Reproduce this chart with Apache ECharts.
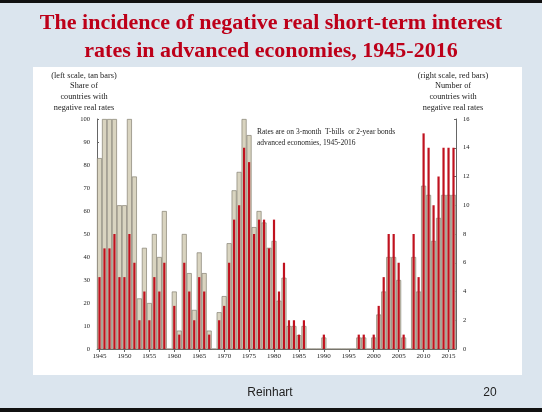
<!DOCTYPE html>
<html><head><meta charset="utf-8">
<script src="https://cdn.jsdelivr.net/npm/echarts@6/dist/echarts.min.js"></script>
<style>html,body{margin:0;padding:0;background:#dbe5ee;}#c{width:542px;height:412px;}</style>
</head><body><div id="c"></div>
<script>
var years = [];
for (var y = 1945; y <= 2016; y++) years.push(String(y));
var shareTan = [83,100,100,100,62.5,62.5,100,75,22,44,20,50,40,60,0,25,8,50,33,17,42,33,8,0,16,23,46,69,77,100,93,53,60,55,44,47,21,31,10,10,6,10,0,0,0,5,0,0,0,0,0,0,5,5,0,5,15,25,40,40,30,5,0,40,25,71,67,47,57,67,67,67];
var numberRed = [5,7,7,8,5,5,8,6,2,4,2,5,4,6,0,3,1,6,4,2,5,4,1,0,2,3,6,9,10,14,13,8,9,9,7,9,4,6,2,2,1,2,0,0,0,1,0,0,0,0,0,0,1,1,0,1,3,5,8,8,6,1,0,8,5,15,14,10,12,14,14,14];
var leftTicks = {min:0, max:100, interval:10};
var rightTicks = {min:0, max:16, interval:2};
var titleText = 'The incidence of negative real short-term interest\nrates in advanced economies, 1945-2016';
var leftHeader = '(left scale, tan bars)\nShare of\ncountries with\nnegative real rates';
var rightHeader = '(right scale, red bars)\nNumber of\ncountries with\nnegative real rates';
var noteText = 'Rates are on 3-month  T-bills  or 2-year bonds\nadvanced economies, 1945-2016';

var chart = echarts.init(document.getElementById('c'));
var serif = '"Liberation Serif", "Times New Roman", serif';
var lblFn = function(i){ return i % 5 === 0; };
chart.setOption({
  backgroundColor: '#dbe5ee',
  animation: false,
  graphic: [
    {type:'rect', left:0, top:0, shape:{width:542, height:3}, style:{fill:'#111'}},
    {type:'rect', left:0, top:408, shape:{width:542, height:4}, style:{fill:'#111'}},
    {type:'rect', left:33, top:67, z:-10, shape:{width:489, height:308}, style:{fill:'#ffffff'}},
    {type:'text', x:271, y:9, style:{text:titleText, font:'bold 22px ' + serif, fill:'#bd0019', align:'center', lineHeight:28}},
    {type:'text', x:84, y:70, style:{text:leftHeader, font:'8.3px ' + serif, fill:'#222', align:'center', lineHeight:10.8}},
    {type:'text', x:453, y:70, style:{text:rightHeader, font:'8.3px ' + serif, fill:'#222', align:'center', lineHeight:10.8}},
    {type:'text', x:257, y:127, style:{text:noteText, font:'7.5px ' + serif, fill:'#222', align:'left', lineHeight:11}},
    {type:'text', x:270, y:387, style:{text:'Reinhart', font:'12px "Liberation Sans", Arial, sans-serif', fill:'#222', align:'center'}},
    {type:'text', x:490, y:387, style:{text:'20', font:'12px "Liberation Sans", Arial, sans-serif', fill:'#222', align:'center'}}
  ],
  grid: {left:97, right:86, top:119, bottom:63},
  xAxis: [
    {type:'category', data:years, axisLine:{lineStyle:{color:'#666', width:1}},
     axisTick:{show:true, interval:lblFn, alignWithLabel:true, length:3, lineStyle:{color:'#666'}},
     axisLabel:{interval:lblFn, fontFamily:serif, fontSize:7, color:'#222', margin:4}},
    {type:'category', data:years, show:false, gridIndex:0}
  ],
  yAxis: [
    {type:'value', min:leftTicks.min, max:leftTicks.max, interval:leftTicks.interval, position:'left',
     axisLine:{show:true, lineStyle:{color:'#666'}}, axisTick:{show:true, length:2, inside:true}, splitLine:{show:false},
     axisLabel:{fontFamily:serif, fontSize:6.5, color:'#222', margin:7}},
    {type:'value', min:rightTicks.min, max:rightTicks.max, interval:rightTicks.interval, position:'right',
     axisLine:{show:true, lineStyle:{color:'#666'}}, axisTick:{show:true, length:2, inside:true}, splitLine:{show:false},
     axisLabel:{fontFamily:serif, fontSize:6.5, color:'#222', margin:7}}
  ],
  series: [
    {type:'bar', name:'Share', data:shareTan, xAxisIndex:0, yAxisIndex:0, barCategoryGap:'0%', barWidth:5,
     itemStyle:{color:'#d9d4c0', borderColor:'#858172', borderWidth:0.7}},
    {type:'bar', name:'Number', data:numberRed, xAxisIndex:1, yAxisIndex:1, barWidth:2.2,
     itemStyle:{color:'#c0121f'}}
  ]
});
</script></body></html>
